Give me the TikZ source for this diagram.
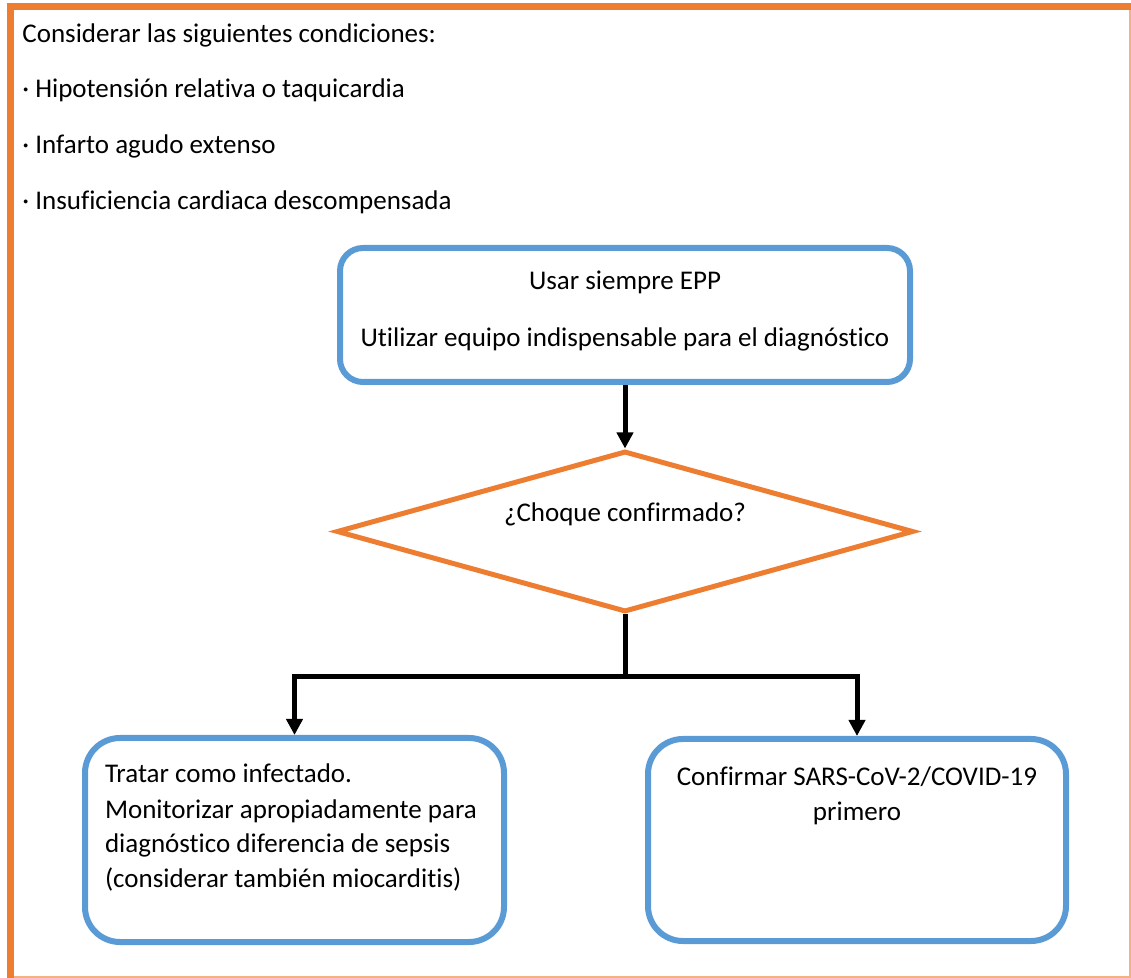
\documentclass[tikz,border=0pt]{standalone}
\usepackage{fontspec}
\setmainfont{Carlito}[Ligatures=NoCommon]
\usepackage{xcolor}
\usepackage{tikz}
\usetikzlibrary{shapes.geometric, arrows.meta, positioning}

\definecolor{boxblue}{HTML}{5B9BD5}
\definecolor{frameorange}{HTML}{ED7D31}
\definecolor{framelight}{HTML}{F4B183}

\begin{document}
\begin{tikzpicture}[
    x=0.5pt, y=-0.5pt,
    every node/.style={font=\fontsize{13.5}{17.5}\selectfont},
    box/.style={draw=boxblue, line width=3pt, rectangle, rounded corners=11.5pt, text height=9pt},
    decision/.style={draw=frameorange, line width=2.5pt, diamond, aspect=3.58, inner sep=0pt, minimum width=288.5pt, minimum height=80.5pt, text height=9pt, text depth=19pt},
    cond/.style={anchor=base west, inner sep=0pt},
    arrow/.style={-{Triangle[length=8pt, width=8pt]}, line width=2.5pt}
]
\useasboundingbox (0,0) rectangle (1131,978);

% Frame
\draw[framelight, line width=1pt] (1129.5,10) -- (1129.5,976.5) -- (14,976.5);
\draw[frameorange, line width=3.5pt] (10.5,978) -- (10.5,6.5) -- (1131,6.5);

% Nodes
\node[cond] (cond0) at (22,43) {Considerar las siguientes condiciones:};
\node[cond] (cond1) at (22,98) {· Hipotensión relativa o taquicardia};
\node[cond] (cond2) at (22,154) {· Infarto agudo extenso};
\node[cond] (cond3) at (22,210) {· Insuficiencia cardiaca descompensada};

\node[box, minimum width=285pt, minimum height=67pt, text width=270pt, align=flush center, text depth=34pt] (epp) at (625,315) {Usar siempre EPP\\[11pt]Utilizar equipo indispensable para el diagnóstico};
\node[decision] (shock) at (625,531.5) {¿Choque confirmado?};

\node[box, rounded corners=17.5pt, minimum width=209.5pt, minimum height=102pt, text width=189.5pt, inner xsep=10pt, align=flush left, text depth=66pt] (treat) at (294.5,840) {Tratar como infectado.\\Monitorizar apropiadamente para\\diagnóstico diferencia de sepsis\\(considerar también miocarditis)};
\node[box, rounded corners=17.5pt, minimum width=209pt, minimum height=101pt, text width=189pt, inner xsep=10pt, align=flush center, text depth=64pt] (confirm) at (857,840) {Confirmar SARS-CoV-2/COVID-19\\primero};

% Connections
\coordinate (split) at (625,677);
\draw[arrow] (epp.south) -- (shock.north);
\draw[line width=2.5pt] (shock.south) -- (split);
\draw[arrow] (split) -| (treat.north);
\draw[arrow] (split) -| (confirm.north);

\end{tikzpicture}
\end{document}
